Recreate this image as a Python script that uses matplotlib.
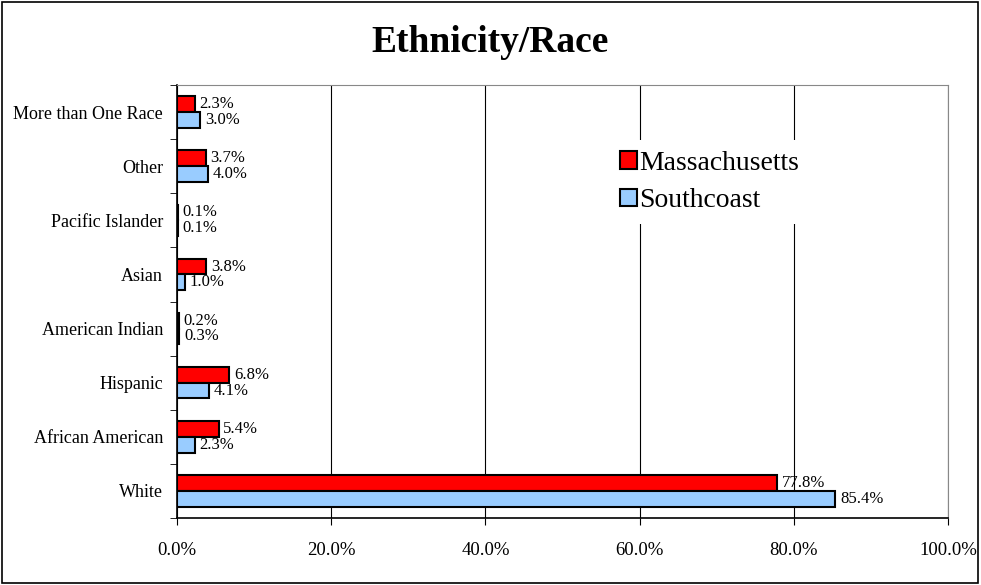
import numpy as np
import matplotlib.pyplot as plt
from matplotlib.patches import Rectangle

plt.rcParams['font.family'] = ['Liberation Serif', 'DejaVu Serif']

categories = ["White", "African American", "Hispanic", "American Indian",
              "Asian", "Pacific Islander", "Other", "More than One Race"]
massachusetts = [77.8, 5.4, 6.8, 0.2, 3.8, 0.1, 3.7, 2.3]
southcoast = [85.4, 2.3, 4.1, 0.3, 1.0, 0.1, 4.0, 3.0]
xticks = [0, 20, 40, 60, 80, 100]

fig = plt.figure(figsize=(9.81, 5.85), dpi=100)
ax = fig.add_axes([0.1804, 0.1145, 0.7860, 0.7402])

y = np.arange(len(categories))
h = 0.29
bars_ma = ax.barh(y + h / 2, massachusetts, height=h, color="#FF0000",
                  edgecolor="black", linewidth=1.5, label="Massachusetts", zorder=3)
bars_sc = ax.barh(y - h / 2, southcoast, height=h, color="#99CCFF",
                  edgecolor="black", linewidth=1.5, label="Southcoast", zorder=3)

for bars, vals in ((bars_ma, massachusetts), (bars_sc, southcoast)):
    for b, v in zip(bars, vals):
        ax.text(v + 0.6, b.get_y() + b.get_height() / 2, f"{v:.1f}%",
                va="center", ha="left", fontsize=12, zorder=4)

ax.set_xlim(0, 100)
ax.set_ylim(-0.5, len(categories) - 0.5)
ax.set_xticks(xticks)
ax.set_xticklabels([f"{t:.1f}%" for t in xticks], fontsize=13.5)
ax.tick_params(axis="x", length=5, pad=12)

ax.set_yticks(y)
ax.set_yticklabels(categories, fontsize=13)
ax.set_yticks(np.arange(-0.5, len(categories), 1), minor=True)
ax.tick_params(axis="y", which="major", length=0, pad=10)
ax.tick_params(axis="y", which="minor", length=5)

ax.grid(axis="x", color="black", linewidth=0.8, zorder=0)
for side in ("top", "right"):
    ax.spines[side].set_color("#888888")
for side in ("left", "bottom"):
    ax.spines[side].set_linewidth(1.2)

# legend sits on a white box (no border) that hides the gridlines behind it
leg = ax.legend(loc="upper left", bbox_to_anchor=(0.542, 0.906), frameon=True,
                fontsize=20, handlelength=0.6, handleheight=0.6,
                handletextpad=0.1, labelspacing=0.45, fancybox=False,
                facecolor="white", edgecolor="none", framealpha=1)

fig.text(0.5, 0.928, "Ethnicity/Race", ha="center", va="center",
         fontsize=27, fontweight="bold")

fig.patches.append(Rectangle((0.002, 0.004), 0.995, 0.992, transform=fig.transFigure,
                             fill=False, edgecolor="black", linewidth=1.2))

fig.savefig("out.png", dpi=100)
